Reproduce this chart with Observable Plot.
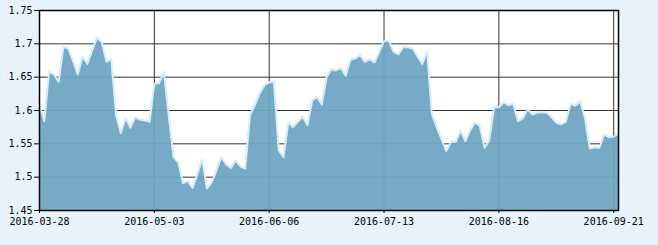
<!DOCTYPE html>
<html>
<head>
<meta charset="utf-8">
<script src="https://cdn.jsdelivr.net/npm/d3@7"></script>
<script src="https://cdn.jsdelivr.net/npm/@observablehq/plot@0.6"></script>
<style>
  html, body { margin: 0; padding: 0; background: #e6f3fb; }
  #chart { width: 658px; height: 245px; }
</style>
</head>
<body>
<div id="chart"></div>
<script>
// Values per trading day (index 0 = 2016-03-28)
const values = [
  1.610, 1.584, 1.658, 1.654, 1.643, 1.696, 1.693, 1.674, 1.654, 1.681,
  1.670, 1.690, 1.709, 1.703, 1.673, 1.677, 1.593, 1.566, 1.589, 1.574,
  1.590, 1.586, 1.585, 1.583, 1.640, 1.641, 1.658, 1.593, 1.530, 1.522,
  1.491, 1.494, 1.484, 1.505, 1.527, 1.483, 1.492, 1.511, 1.530, 1.519,
  1.514, 1.525, 1.516, 1.513, 1.593, 1.608, 1.625, 1.638, 1.642, 1.643,
  1.540, 1.530, 1.582, 1.575, 1.583, 1.591, 1.578, 1.615, 1.620, 1.609,
  1.650, 1.662, 1.660, 1.664, 1.652, 1.676, 1.678, 1.683, 1.673, 1.677,
  1.672, 1.688, 1.704, 1.705, 1.688, 1.684, 1.695, 1.695, 1.693, 1.681,
  1.670, 1.689, 1.595, 1.575, 1.557, 1.539, 1.553, 1.553, 1.570, 1.554,
  1.570, 1.582, 1.577, 1.544, 1.555, 1.605, 1.605, 1.612, 1.608, 1.610,
  1.584, 1.588, 1.602, 1.594, 1.597, 1.597, 1.597, 1.590, 1.582, 1.579,
  1.583, 1.610, 1.607, 1.614, 1.588, 1.543, 1.545, 1.544, 1.564, 1.560,
  1.561, 1.565
];
const xTickIndex = [0, 24, 48, 72, 96, 120];
const xTickLabels = ["2016-03-28", "2016-05-03", "2016-06-06", "2016-07-13", "2016-08-16", "2016-09-21"];
const yTicks = [1.45, 1.5, 1.55, 1.6, 1.65, 1.7, 1.75];

const data = values.map((v, i) => ({i, v}));
const labelOf = new Map(xTickIndex.map((d, k) => [d, xTickLabels[k]]));

const chart = Plot.plot({
  width: 658,
  height: 245,
  marginLeft: 39,
  marginRight: 40,
  marginTop: 10,
  marginBottom: 35,
  style: {
    background: "#e6f3fb",
    fontFamily: "'DejaVu Sans Mono', monospace",
    fontSize: "10px",
    color: "#000"
  },
  x: {domain: [0, values.length - 1]},
  y: {domain: [1.45, 1.75]},
  marks: [
    Plot.frame({fill: "white", stroke: "none"}),
    Plot.gridY(yTicks, {stroke: "#333", strokeOpacity: 1}),
    Plot.gridX(xTickIndex, {stroke: "#333", strokeOpacity: 1}),
    Plot.areaY(data, {x: "i", y1: 1.45, y2: "v", fill: "#6ea5c2", fillOpacity: 0.94}),
    Plot.line(data, {x: "i", y: "v", stroke: "#d8ecf8", strokeWidth: 2}),
    Plot.frame({stroke: "#000", strokeWidth: 1.5}),
    Plot.axisY(yTicks, {tickSize: 5, tickPadding: 2, tickFormat: d => String(+d.toFixed(2)), fill: "#000", stroke: "#000", label: null}),
    Plot.axisX(xTickIndex, {tickSize: 3, tickPadding: 4, tickFormat: d => labelOf.get(d), fill: "#000", stroke: "#000", label: null})
  ]
});
document.getElementById("chart").appendChild(chart);
</script>
</body>
</html>
